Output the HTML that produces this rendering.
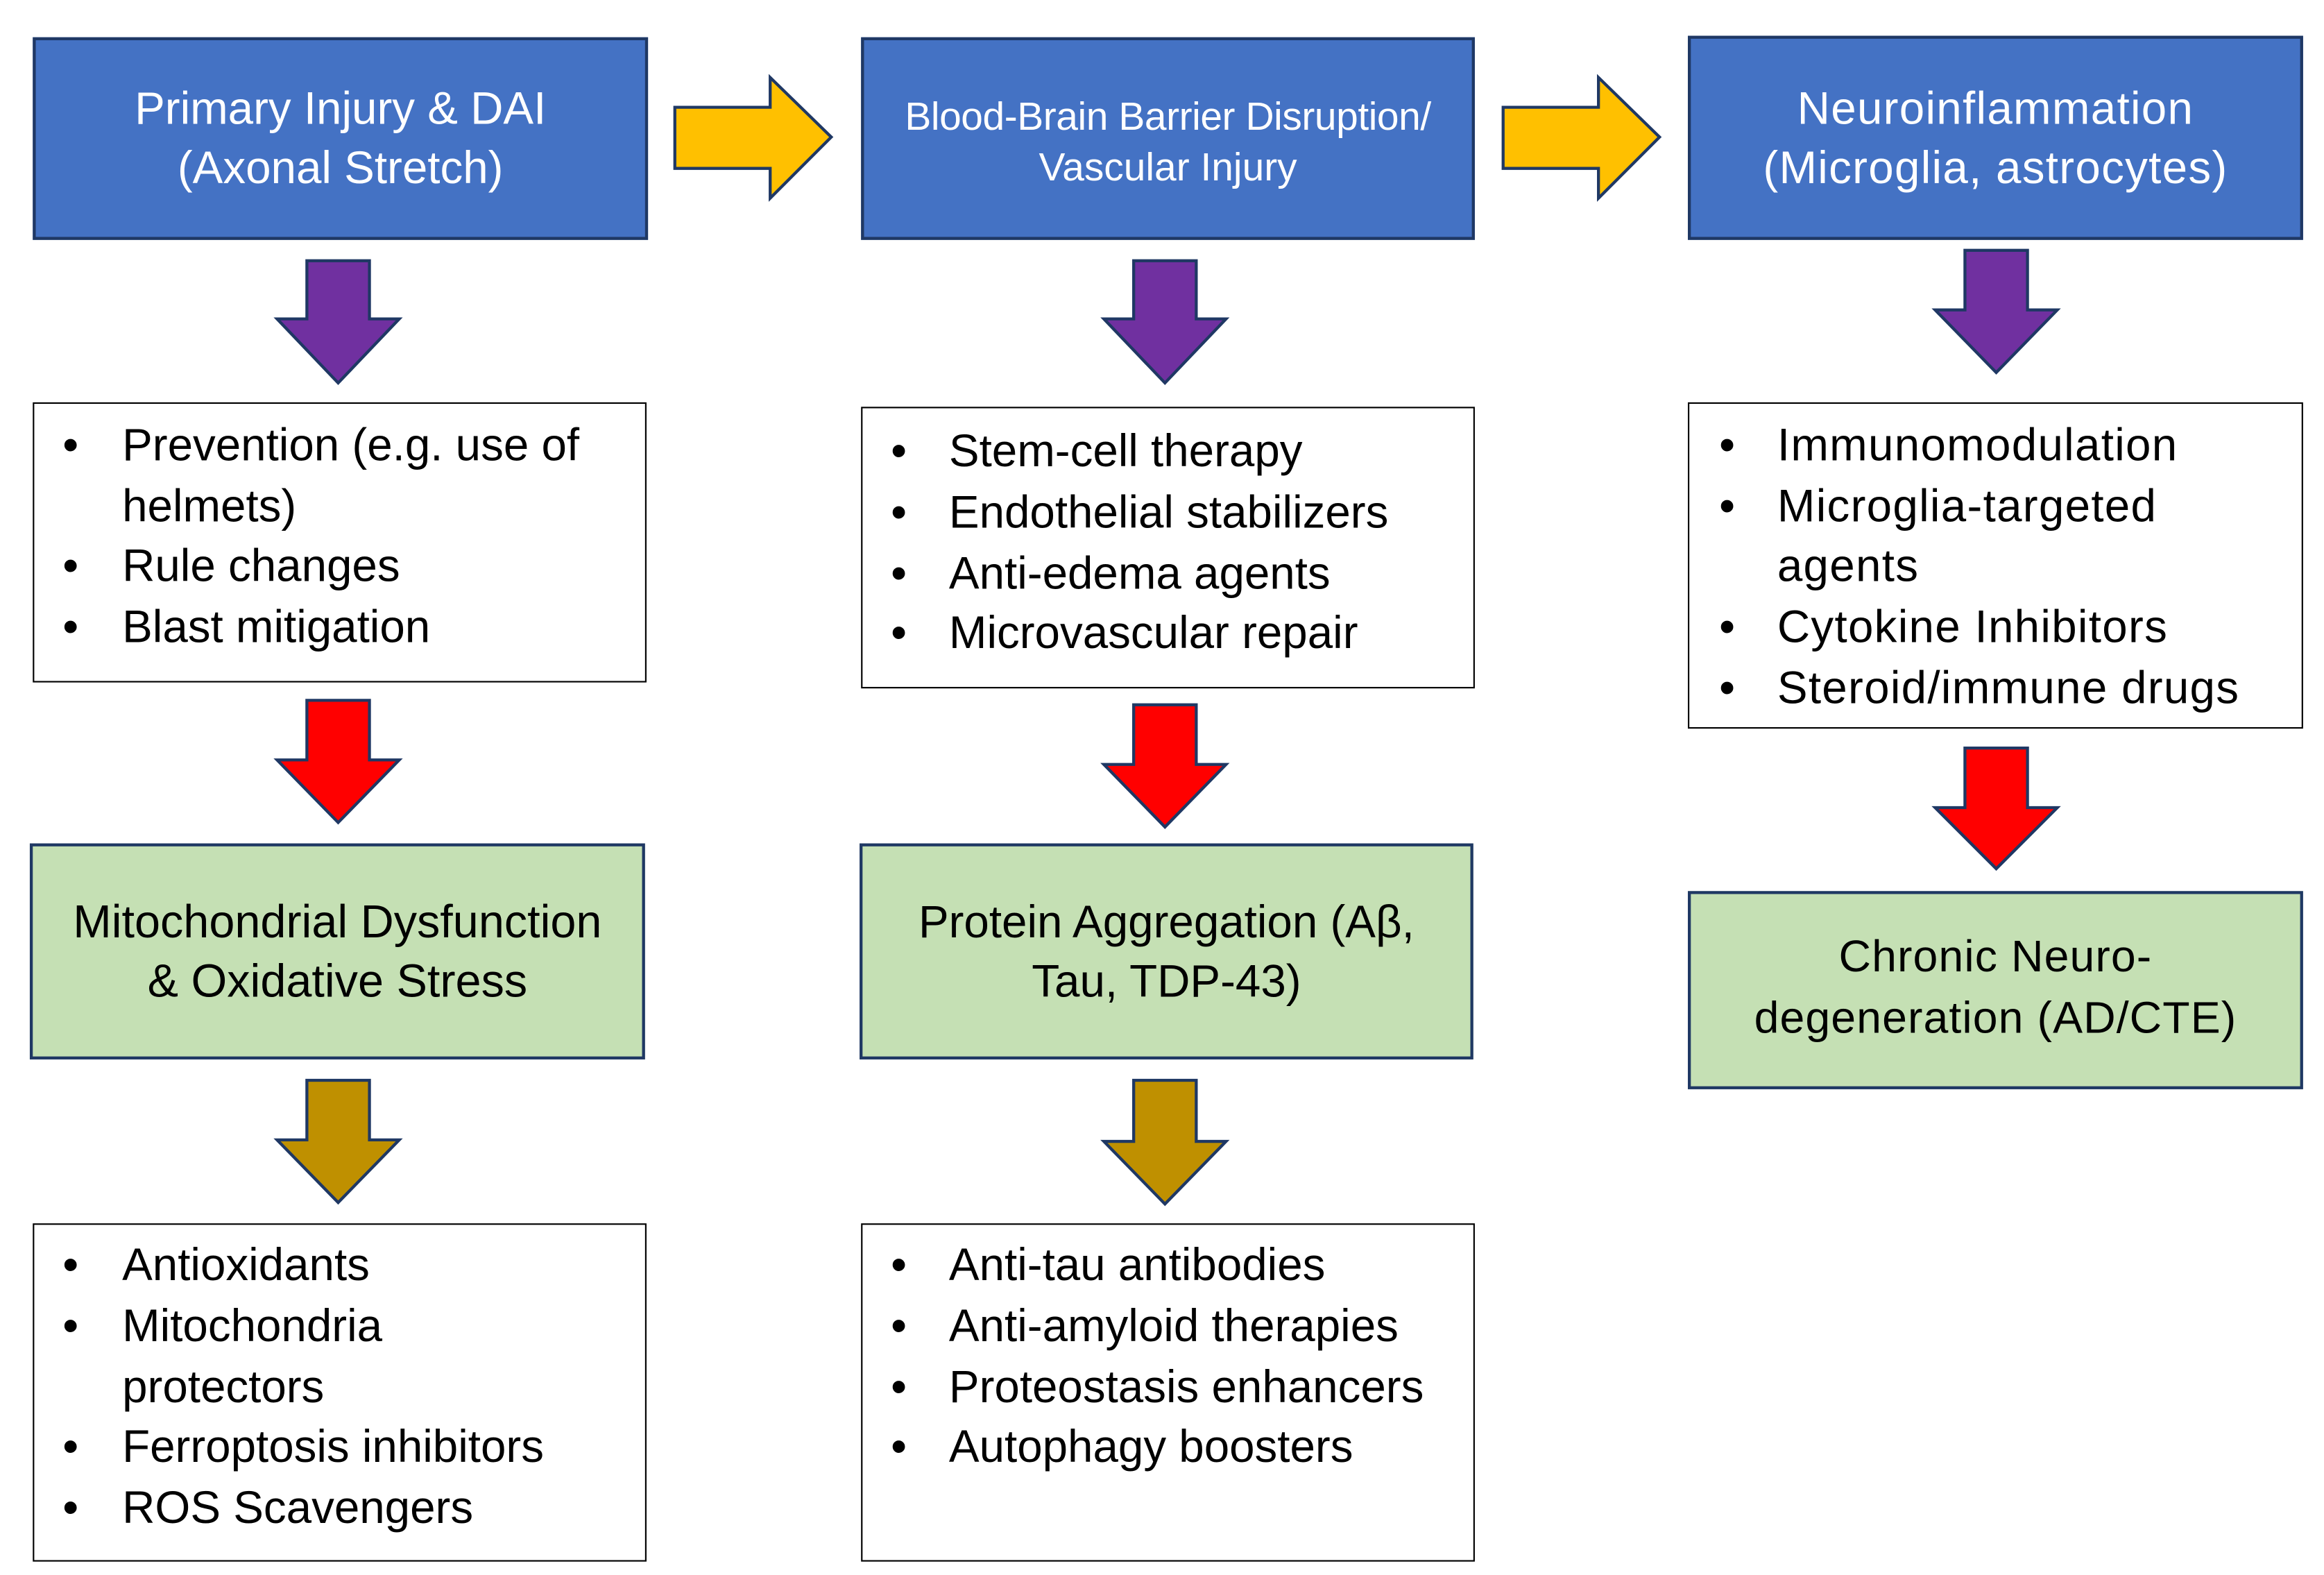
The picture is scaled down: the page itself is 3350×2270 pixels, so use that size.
<!DOCTYPE html>
<html><head><meta charset="utf-8"><style>
html,body{margin:0;padding:0;background:#fff;width:3350px;height:2270px;overflow:hidden}
#c{position:absolute;left:0;top:0;width:1560px;height:1057px;transform:scale(2.1474,2.1476);transform-origin:0 0;font-family:"Liberation Sans",sans-serif}
.b{position:absolute;box-sizing:border-box}
.blue{background:#4472C4;border:2.5px solid #1F3864}
.green{background:#C5E0B4;border:2.5px solid #1F3864}
.white{background:#fff;border:1.5px solid #000}
.t{position:absolute;white-space:nowrap;line-height:40px;height:40px}
.ctr{text-align:center}
svg{position:absolute;left:0;top:0}
.c3 .t{letter-spacing:0.6px}
</style></head><body><div id="c">
<div class="b blue" style="left:22px;top:25px;width:413px;height:136px"></div>
<div class="b blue" style="left:578px;top:25px;width:412px;height:136px"></div>
<div class="b blue" style="left:1133px;top:24px;width:413px;height:137px"></div>
<div class="b white" style="left:22px;top:270px;width:412px;height:188px"></div>
<div class="b white" style="left:578px;top:273px;width:412px;height:189px"></div>
<div class="b white" style="left:1133px;top:270px;width:413px;height:219px"></div>
<div class="b green" style="left:20px;top:566px;width:413px;height:145px"></div>
<div class="b green" style="left:577px;top:566px;width:412px;height:145px"></div>
<div class="b green" style="left:1133px;top:598px;width:413px;height:133px"></div>
<div class="b white" style="left:22px;top:821px;width:412px;height:227px"></div>
<div class="b white" style="left:578px;top:821px;width:412px;height:227px"></div>

<svg width="1560" height="1057" viewBox="0 0 1560 1057">
<g stroke="#1F3864" stroke-width="2" stroke-linejoin="miter">
<polygon fill="#FFC000" points="453,72 517,72 517,52 558,92 517,133 517,113 453,113"/>
<polygon fill="#FFC000" points="1009,72 1073,72 1073,52 1114,92 1073,133 1073,113 1009,113"/>
<polygon fill="#7030A0" points="206,175 248,175 248,214 268,214 227,257 186,214 206,214"/>
<polygon fill="#7030A0" points="761,175 803,175 803,214 823,214 782,257 741,214 761,214"/>
<polygon fill="#7030A0" points="1319,168 1361,168 1361,208 1381,208 1340,250 1299,208 1319,208"/>
<polygon fill="#FF0000" points="206,470 248,470 248,510 268,510 227,552 186,510 206,510"/>
<polygon fill="#FF0000" points="761,473 803,473 803,513 823,513 782,555 741,513 761,513"/>
<polygon fill="#FF0000" points="1319,502 1361,502 1361,542 1381,542 1340,583 1299,542 1319,542"/>
<polygon fill="#BF9000" points="206,725 248,725 248,765 268,765 227,807 186,765 206,765"/>
<polygon fill="#BF9000" points="761,725 803,725 803,766 823,766 782,808 741,766 761,766"/>
</g></svg>

<div class="t ctr" style="left:22px;width:413px;top:53px;color:#fff;font-size:30.5px">Primary Injury &amp; DAI</div>
<div class="t ctr" style="left:22px;width:413px;top:93px;color:#fff;font-size:30.5px">(Axonal Stretch)</div>
<div class="t ctr" style="left:578px;width:412px;top:58px;color:#fff;font-size:26.5px;letter-spacing:-0.2px">Blood-Brain Barrier Disruption/</div>
<div class="t ctr" style="left:578px;width:412px;top:92px;color:#fff;font-size:26.5px">Vascular Injury</div>
<div class="t ctr" style="left:1133px;width:413px;top:53px;color:#fff;font-size:30.5px;letter-spacing:0.6px">Neuroinflammation</div>
<div class="t ctr" style="left:1133px;width:413px;top:93px;color:#fff;font-size:30.5px;letter-spacing:0.6px">(Microglia, astrocytes)</div>

<div class="t ctr" style="left:20px;width:413px;top:599px;font-size:31px">Mitochondrial Dysfunction</div>
<div class="t ctr" style="left:20px;width:413px;top:639px;font-size:31px">&amp; Oxidative Stress</div>
<div class="t ctr" style="left:577px;width:412px;top:599px;font-size:30.5px">Protein Aggregation (Aβ,</div>
<div class="t ctr" style="left:577px;width:412px;top:639px;font-size:30.5px">Tau, TDP-43)</div>
<div class="t ctr" style="left:1133px;width:413px;top:623px;font-size:30px;letter-spacing:0.5px">Chronic Neuro-</div>
<div class="t ctr" style="left:1133px;width:413px;top:664px;font-size:30px;letter-spacing:0.5px">degeneration (AD/CTE)</div>

<div style="font-size:30.5px">
<div class="t" style="left:42px;top:279px">•</div><div class="t" style="left:82px;top:279px">Prevention (e.g. use of</div>
<div class="t" style="left:82px;top:320px">helmets)</div>
<div class="t" style="left:42px;top:360px">•</div><div class="t" style="left:82px;top:360px">Rule changes</div>
<div class="t" style="left:42px;top:401px">•</div><div class="t" style="left:82px;top:401px">Blast mitigation</div>

<div class="t" style="left:598px;top:283px">•</div><div class="t" style="left:637px;top:283px">Stem-cell therapy</div>
<div class="t" style="left:598px;top:324px">•</div><div class="t" style="left:637px;top:324px">Endothelial stabilizers</div>
<div class="t" style="left:598px;top:365px">•</div><div class="t" style="left:637px;top:365px">Anti-edema agents</div>
<div class="t" style="left:598px;top:405px">•</div><div class="t" style="left:637px;top:405px">Microvascular repair</div>

<div class="c3">
<div class="t" style="left:1154px;top:279px">•</div><div class="t" style="left:1193px;top:279px">Immunomodulation</div>
<div class="t" style="left:1154px;top:320px">•</div><div class="t" style="left:1193px;top:320px">Microglia-targeted</div>
<div class="t" style="left:1193px;top:360px">agents</div>
<div class="t" style="left:1154px;top:401px">•</div><div class="t" style="left:1193px;top:401px">Cytokine Inhibitors</div>
<div class="t" style="left:1154px;top:442px">•</div><div class="t" style="left:1193px;top:442px">Steroid/immune drugs</div>
</div>

<div class="t" style="left:42px;top:829px">•</div><div class="t" style="left:82px;top:829px">Antioxidants</div>
<div class="t" style="left:42px;top:870px">•</div><div class="t" style="left:82px;top:870px">Mitochondria</div>
<div class="t" style="left:82px;top:911px">protectors</div>
<div class="t" style="left:42px;top:951px">•</div><div class="t" style="left:82px;top:951px">Ferroptosis inhibitors</div>
<div class="t" style="left:42px;top:992px">•</div><div class="t" style="left:82px;top:992px">ROS Scavengers</div>

<div class="t" style="left:598px;top:829px">•</div><div class="t" style="left:637px;top:829px">Anti-tau antibodies</div>
<div class="t" style="left:598px;top:870px">•</div><div class="t" style="left:637px;top:870px">Anti-amyloid therapies</div>
<div class="t" style="left:598px;top:911px">•</div><div class="t" style="left:637px;top:911px">Proteostasis enhancers</div>
<div class="t" style="left:598px;top:951px">•</div><div class="t" style="left:637px;top:951px">Autophagy boosters</div>
</div>
</div></body></html>
